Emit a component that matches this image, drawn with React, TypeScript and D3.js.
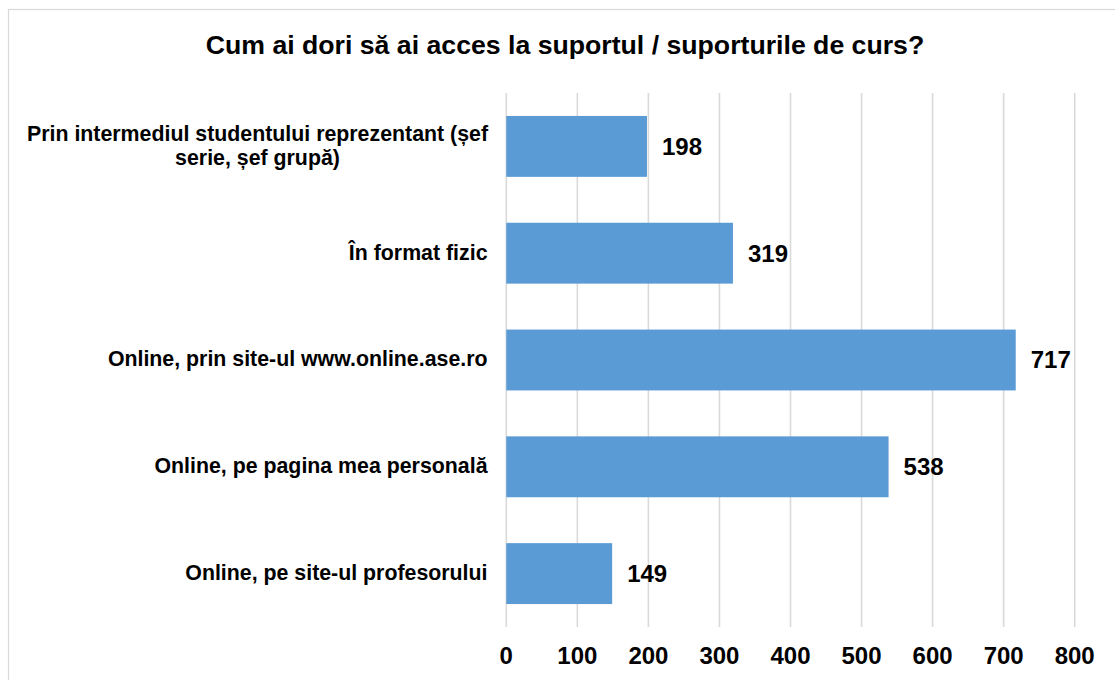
import React from "react";
import * as d3 from "d3";

const title = "Cum ai dori să ai acces la suportul / suporturile de curs?";
const categories = [
  "Prin intermediul studentului reprezentant (șef serie, șef grupă)",
  "În format fizic",
  "Online, prin site-ul www.online.ase.ro",
  "Online, pe pagina mea personală",
  "Online, pe site-ul profesorului",
];
const categoryLines: string[][] = [
  ["Prin intermediul studentului reprezentant (șef", "serie, șef grupă)"],
  ["În format fizic"],
  ["Online, prin site-ul www.online.ase.ro"],
  ["Online, pe pagina mea personală"],
  ["Online, pe site-ul profesorului"],
];
const values = [198, 319, 717, 538, 149];
const xTicks = [0, 100, 200, 300, 400, 500, 600, 700, 800];

const W = 1115;
const H = 680;
const FONT = "'Liberation Sans', Arial, Helvetica, sans-serif";

export default function App() {
  const x = d3.scaleLinear().domain([0, 800]).range([506.3, 1074.7]);
  const y = d3
    .scaleBand<string>()
    .domain(categories)
    .range([93, 627])
    .paddingInner(0.43)
    .paddingOuter(0.215);
  const bw = y.bandwidth();
  const lineH = 24.5;

  return (
    <svg
      width={W}
      height={H}
      style={{ position: "absolute", left: 0, top: 0, display: "block", background: "#fff" }}
      fontFamily={FONT}
    >
      <rect x={0} y={0} width={W} height={H} fill="#fff" />
      <rect x={8.5} y={9.5} width={W + 20} height={H + 20} fill="none" stroke="#d9d9d9" strokeWidth={1.2} />
      <text x={565} y={54} textAnchor="middle" fontSize={26.67} fontWeight="bold" fill="#000">
        {title}
      </text>
      {xTicks.map((t) => (
        <line key={"g" + t} x1={x(t)} x2={x(t)} y1={93} y2={627} stroke="#d9d9d9" strokeWidth={1.6} />
      ))}
      {categories.map((c, i) => (
        <rect
          key={"b" + c}
          x={x(0)}
          y={y(c)!}
          width={x(values[i]) - x(0)}
          height={bw}
          fill="#5b9bd5"
        />
      ))}
      {categories.map((c, i) => {
        const cy = y(c)! + bw / 2;
        const lines = categoryLines[i];
        const n = lines.length;
        const blockRight = 487.5;
        if (n === 1) {
          return (
            <text key={"l" + c} x={blockRight} y={cy} dy="0.3em" textAnchor="end" fontSize={21.33} fontWeight="bold" fill="#000">
              {lines[0]}
            </text>
          );
        }
        return (
          <g key={"l" + c}>
            {lines.map((ln, j) => (
              <text
                key={j}
                x={257.5}
                y={cy + (j - (n - 1) / 2) * lineH}
                dy="0.3em"
                textAnchor="middle"
                fontSize={21.33}
                fontWeight="bold"
                fill="#000"
              >
                {ln}
              </text>
            ))}
          </g>
        );
      })}
      {categories.map((c, i) => (
        <text
          key={"v" + c}
          x={x(values[i]) + 15}
          y={y(c)! + bw / 2}
          dy="0.35em"
          fontSize={24}
          fontWeight="bold"
          fill="#000"
        >
          {values[i]}
        </text>
      ))}
      {xTicks.map((t) => (
        <text key={"t" + t} x={x(t)} y={664} textAnchor="middle" fontSize={24} fontWeight="bold" fill="#000">
          {t}
        </text>
      ))}
    </svg>
  );
}
